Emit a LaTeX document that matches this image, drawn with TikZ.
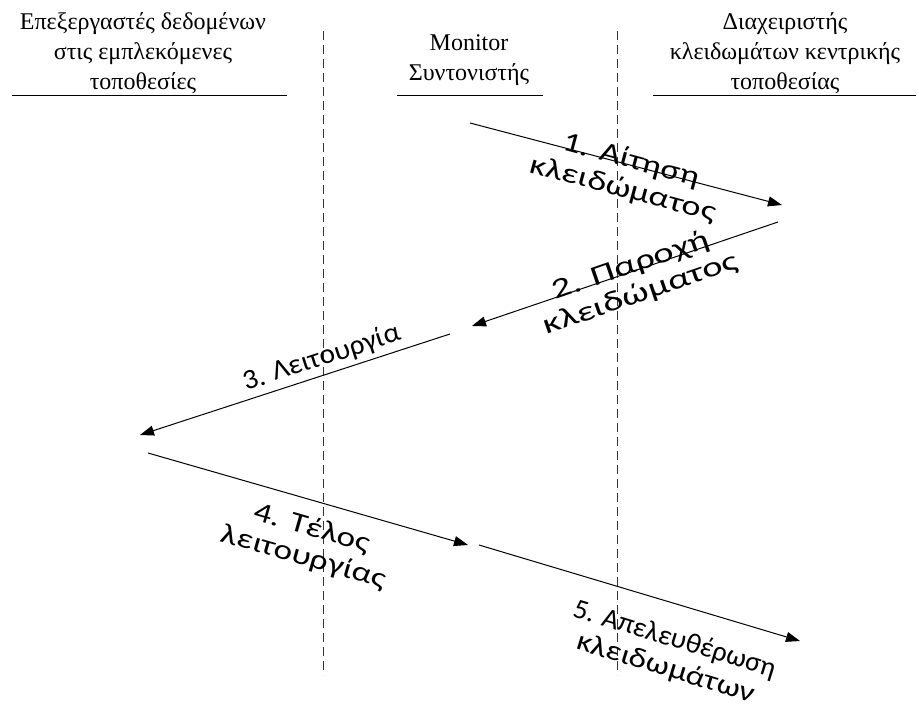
\documentclass[tikz,border=0pt]{standalone}
\usepackage{fontspec}
\usepackage{graphicx}
\setmainfont{Liberation Serif}
\newfontfamily\msgfont{Carlito}
\usetikzlibrary{arrows.meta}

\begin{document}
\begin{tikzpicture}[x=1pt,y=-1pt,
    head/.style={align=center,inner sep=0pt,anchor=south,font=\fontsize{24}{30}\selectfont},
    msg/.style={align=center,inner sep=0pt,font=\msgfont\fontsize{28}{30}\selectfont},
    lane/.style={draw=black!80,line width=1pt,dash pattern=on 9pt off 5pt},
    bar/.style={draw,line width=1pt},
    flow/.style={draw,line width=1pt,-{Triangle[length=14pt,width=10pt]}}]
            \useasboundingbox (0,0) rectangle (919,708);

            % headers
            \node[head](h1)at(143,94){Επεξεργαστές δεδομένων\\στις εμπλεκόμενες\\τοποθεσίες};
            \node[head](h2)at(469,86){Monitor\\Συντονιστής};
            \node[head](h3)at(785,94){Διαχειριστής\\κλειδωμάτων κεντρικής\\τοποθεσίας};

            \coordinate(u1a)at(12,96);  \coordinate(u1b)at(287,96);
            \coordinate(u2a)at(397,96); \coordinate(u2b)at(543,96);
            \coordinate(u3a)at(653,96); \coordinate(u3b)at(916,96);
            \draw[bar](u1a)to[](u1b);
            \draw[bar](u2a)to[](u2b);
            \draw[bar](u3a)to[](u3b);

            % lanes
            \coordinate(l1a)at(323,31); \coordinate(l1b)at(323,675);
            \coordinate(l2a)at(617,31); \coordinate(l2b)at(617,675);
            \draw[lane](l1a)to[](l1b);
            \draw[lane](l2a)to[](l2b);

            % messages
            \coordinate(a1)at(470,123); \coordinate(b1)at(782,205);
            \coordinate(a2)at(778,222); \coordinate(b2)at(472,326);
            \coordinate(a3)at(450,334); \coordinate(b3)at(140,435);
            \coordinate(a4)at(148,453); \coordinate(b4)at(468,545);
            \coordinate(a5)at(479,545); \coordinate(b5)at(800,641);

            \draw[flow](a1)to[](b1);
            \draw[flow](a2)to[](b2);
            \draw[flow](a3)to[](b3);
            \draw[flow](a4)to[](b4);
            \draw[flow](a5)to[](b5);

            \node[msg,rotate=-15,xscale=1.29](m1)at(627,175){1. Αίτηση\\κλειδώματος};
            \node[msg,rotate=19,xscale=1.38](m2)at(636,280){2. Παροχή\\κλειδώματος};
            \node[msg,rotate=18,xscale=1.05](m3)at(322,358){3. Λειτουργία};
            \node[msg,rotate=-16,xscale=1.26](m4)at(308,543){4. Τέλος\\λειτουργίας};
            \node[msg,rotate=-17,xscale=1.2](m5)at(670,654){\scalebox{0.85}[1]{5. Απελευθέρωση}\\κλειδωμάτων};
           \end{tikzpicture}
\end{document}
